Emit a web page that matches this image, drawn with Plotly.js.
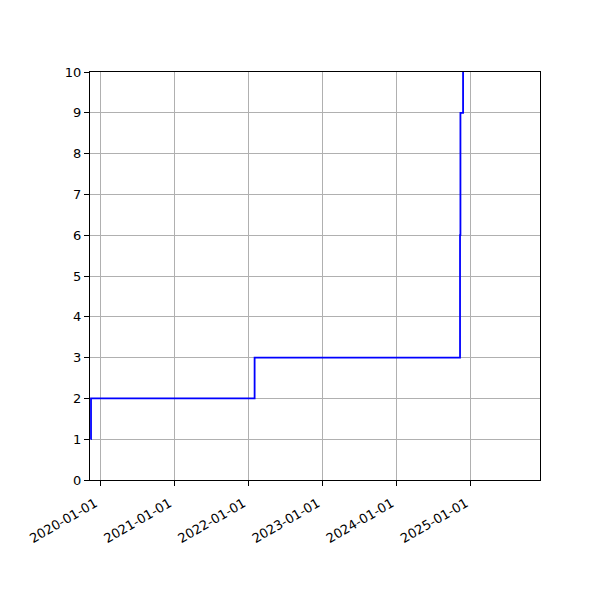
<!DOCTYPE html>
<html>
<head>
<meta charset="utf-8">
<script src="https://cdn.plot.ly/plotly-3.1.0.min.js"></script>
<style>
  html, body { margin: 0; padding: 0; background: #fff; }
  #chart { width: 600px; height: 600px; }
</style>
</head>
<body>
<div id="chart"></div>
<script>
// step series (value holds until the next date)
const dates = ['2019-11-16', '2019-11-17', '2022-01-31', '2024-11-08', '2024-11-10', '2024-11-23']
const counts = [1, 2, 3, 6, 9, 14]

const tickDates = ['2020-01-01', '2021-01-01', '2022-01-01', '2023-01-01', '2024-01-01', '2025-01-01']
const tickLabels = tickDates.slice()

const xRange = ['2019-11-12', '2025-12-07']
const yRange = [0, 10]

const font = { family: 'DejaVu Sans, sans-serif', size: 13, color: '#000' }

Plotly.newPlot('chart', [{
  x: dates,
  y: counts,
  type: 'scatter',
  mode: 'lines',
  line: { color: '#0000ff', width: 1.8, shape: 'hv' },
  showlegend: false,
  hoverinfo: 'skip',
}], {
  width: 600,
  height: 600,
  margin: { l: 90, r: 60, t: 72, b: 120 },
  paper_bgcolor: '#fff',
  plot_bgcolor: '#fff',
  font: font,
  xaxis: {
    type: 'date',
    range: xRange,
    tickmode: 'array',
    tickvals: tickDates,
    ticktext: tickLabels,
    tickangle: -30,
    ticklabelshift: -5,
    ticklabelstandoff: 5,
    ticks: 'outside',
    ticklen: 5,
    tickcolor: '#000',
    showgrid: true,
    gridcolor: '#b0b0b0',
    gridwidth: 1,
    showline: true,
    linecolor: '#000',
    linewidth: 1,
    mirror: true,
    zeroline: false,
  },
  yaxis: {
    range: yRange,
    dtick: 1,
    tick0: 0,
    ticks: 'outside',
    ticklen: 5,
    tickcolor: '#000',
    showgrid: true,
    gridcolor: '#b0b0b0',
    gridwidth: 1,
    showline: true,
    linecolor: '#000',
    linewidth: 1,
    mirror: true,
    zeroline: false,
  },
}, { staticPlot: true })
</script>
</body>
</html>
